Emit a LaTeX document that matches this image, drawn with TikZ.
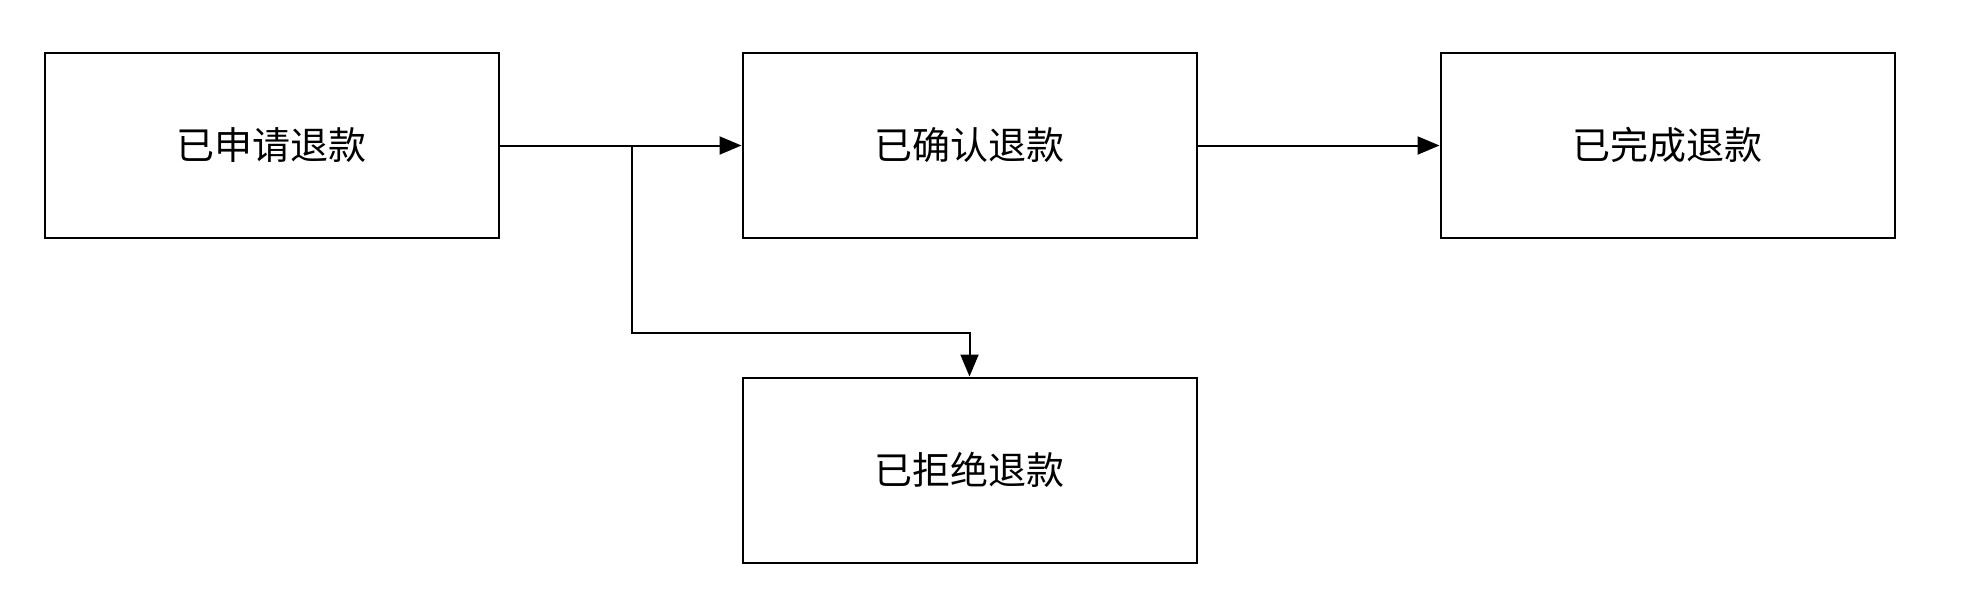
\documentclass[tikz,border=0pt]{standalone}
\usepackage{fontspec}
\newfontfamily\cjk{Noto Sans CJK SC}
\usetikzlibrary{positioning,arrows.meta}

\begin{document}
\begin{tikzpicture}[>={Triangle[length=11pt,width=9pt]},node distance=349pt,on grid,line width=1pt,
  status/.style={draw,rectangle,minimum width=227pt,minimum height=92.5pt,inner sep=0pt,
    font=\cjk\fontsize{19pt}{19pt}\selectfont}]
  \useasboundingbox (0,0) rectangle (983.5pt,-306pt);

  \node[status] (s_0) at (135.75pt,-72.75pt) {已申请退款};
  \node[status] (s_1) [right=of s_0] {已确认退款};
  \node[status] (s_2) [right=of s_1] {已完成退款};
  \node[status] (s_3) [below=162.25pt of s_1] {已拒绝退款};

  \coordinate[right=66pt of s_0.east] (split);
  \coordinate[above=22pt of s_3.north] (turn);

  \draw[->] (s_0) -- (s_1);
  \draw[->] (s_1) -- (s_2);
  \draw[->] (s_0.east) -- (split) |- (turn) -- (s_3.north);
\end{tikzpicture}
\end{document}
